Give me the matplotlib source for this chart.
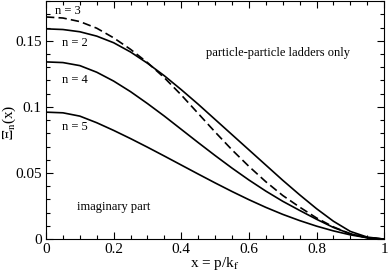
import matplotlib
matplotlib.use('Agg')
import matplotlib.pyplot as plt
from matplotlib.ticker import MultipleLocator

# x = p/k_f grid the values were read on
x = [0.0, 0.05, 0.1, 0.15, 0.2, 0.25, 0.3, 0.35, 0.4, 0.45, 0.5,
     0.55, 0.6, 0.65, 0.7, 0.75, 0.8, 0.85, 0.9, 0.95, 1.0]

# imaginary part, particle-particle ladders only
xi_n2 = [0.159, 0.1585, 0.1568, 0.1535, 0.1485, 0.1415, 0.1330, 0.1235, 0.1130, 0.1020, 0.0905,
         0.0790, 0.0675, 0.0560, 0.0445, 0.0335, 0.0230, 0.0135, 0.0058, 0.0015, 0.0]
xi_n3 = [0.168, 0.1672, 0.1645, 0.1595, 0.1522, 0.1435, 0.1335, 0.1220, 0.1090, 0.0950, 0.0810,
         0.0675, 0.0550, 0.0434, 0.0330, 0.0242, 0.0160, 0.0092, 0.0040, 0.0010, 0.0]
xi_n4 = [0.134, 0.1335, 0.1312, 0.1262, 0.1195, 0.1115, 0.1025, 0.0930, 0.0830, 0.0730, 0.0632,
         0.0537, 0.0447, 0.0363, 0.0286, 0.0217, 0.0150, 0.0088, 0.0040, 0.0010, 0.0]
xi_n5 = [0.096, 0.0955, 0.0930, 0.0880, 0.0822, 0.0760, 0.0695, 0.0628, 0.0560, 0.0492, 0.0425,
         0.0360, 0.0298, 0.0240, 0.0187, 0.0140, 0.0098, 0.0062, 0.0032, 0.0010, 0.0]

plt.rcParams['font.family'] = ['Liberation Serif', 'DejaVu Serif']
plt.rcParams['mathtext.fontset'] = 'stix'

fig = plt.figure(figsize=(3.9, 2.72), dpi=100)
ax = fig.add_axes([0.118, 0.121, 0.867, 0.875])

ax.plot(x, xi_n2, color='black', lw=1.2)
ax.plot(x, xi_n3, color='black', lw=1.2, dashes=[5, 2.5])
ax.plot(x, xi_n4, color='black', lw=1.2)
ax.plot(x, xi_n5, color='black', lw=1.2)

ax.set_xlim(0, 1)
ax.set_ylim(0, 0.18)
ax.xaxis.set_minor_locator(MultipleLocator(0.05))
ax.yaxis.set_minor_locator(MultipleLocator(0.01))
ax.set_xticks([0, 0.2, 0.4, 0.6, 0.8, 1.0])
ax.set_xticklabels(['0', '0.2', '0.4', '0.6', '0.8', '1'])
ax.set_yticks([0, 0.05, 0.1, 0.15])
ax.set_yticklabels(['0', '0.05', '0.1', '0.15'])
ax.tick_params(which='both', direction='in', top=True, right=True, labelsize=11, pad=3)
ax.tick_params(which='major', length=5, width=0.8)
ax.tick_params(which='minor', length=3, width=0.8)

ax.set_xlabel(r'x = p/k$_\mathrm{f}$', fontsize=11, labelpad=-1)
ax.set_ylabel(r'$\Xi_\mathrm{n}$(x)', fontsize=11)
ax.yaxis.set_label_coords(-0.083, 0.49)

ax.text(0.065, 0.1728, 'n = 3', fontsize=9, ha='center', va='center')
ax.text(0.085, 0.1485, 'n = 2', fontsize=9, ha='center', va='center')
ax.text(0.085, 0.120, 'n = 4', fontsize=9, ha='center', va='center')
ax.text(0.085, 0.0845, 'n = 5', fontsize=9, ha='center', va='center')
ax.text(0.685, 0.141, 'particle-particle ladders only', fontsize=9, ha='center', va='center')
ax.text(0.2, 0.024, 'imaginary part', fontsize=9, ha='center', va='center')

fig.savefig('out.png', dpi=100)
